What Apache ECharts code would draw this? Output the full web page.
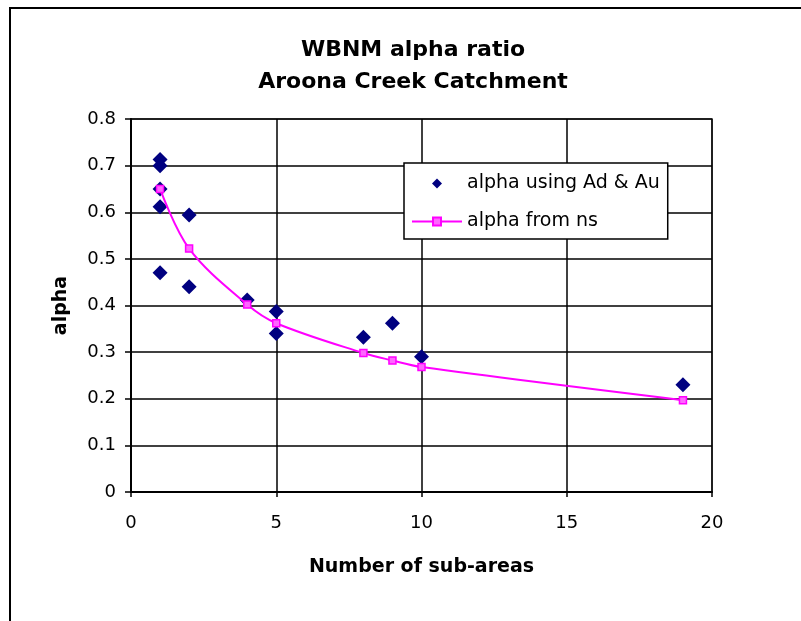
<!DOCTYPE html>
<html>
<head>
<meta charset="utf-8">
<script src="https://cdn.jsdelivr.net/npm/echarts@6/dist/echarts.min.js"></script>
<style>
html,body{margin:0;padding:0;background:#fff;}
#chart{width:801px;height:621px;}
</style>
</head>
<body>
<div id="chart"></div>
<script>
// Data
var scatterX = [1, 1, 1, 1, 1, 2, 2, 4, 5, 5, 8, 9, 10, 19];
var scatterY = [0.713, 0.700, 0.650, 0.612, 0.470, 0.594, 0.440, 0.412, 0.387, 0.340, 0.332, 0.362, 0.290, 0.230];
var nsX = [1, 2, 4, 5, 8, 9, 10, 19];
var nsY = [0.650, 0.522, 0.402, 0.362, 0.298, 0.282, 0.268, 0.197];
var seriesNames = ['alpha using Ad & Au', 'alpha from ns'];
var titleLines = ['WBNM alpha ratio', 'Aroona Creek Catchment'];
var xName = 'Number of sub-areas';
var yName = 'alpha';

var font = '"DejaVu Sans", "Liberation Sans", Arial, sans-serif';
var chart = echarts.init(document.getElementById('chart'), null, {renderer: 'canvas'});

function pairs(xs, ys) { return xs.map(function (x, i) { return [x, ys[i]]; }); }

chart.setOption({
  backgroundColor: '#ffffff',
  animation: false,
  title: {
    text: titleLines.join('\n'),
    left: 408,
    top: 29,
    textAlign: 'center',
    textStyle: {fontFamily: font, fontSize: 22, fontWeight: 'bold', color: '#000', lineHeight: 32}
  },
  graphic: [
    {type: 'line', shape: {x1: 9, y1: 8, x2: 801, y2: 8}, style: {stroke: '#000', lineWidth: 2}},
    {type: 'line', shape: {x1: 10, y1: 8, x2: 10, y2: 621}, style: {stroke: '#000', lineWidth: 2}}
  ],
  legend: {
    left: 404,
    top: 163,
    orient: 'vertical',
    backgroundColor: '#fff',
    borderColor: '#000',
    borderWidth: 1.5,
    borderRadius: 0,
    padding: [11, 8, 8, 7],
    itemGap: 19,
    itemWidth: 50,
    itemHeight: 10,
    symbolKeepAspect: true,
    textStyle: {fontFamily: font, fontSize: 19, color: '#000'},
    data: [
      {name: seriesNames[0], icon: 'path://M5,0L10,5L5,10L0,5Z'},
      {name: seriesNames[1]}
    ]
  },
  grid: {
    left: 131, right: 89, top: 119, bottom: 129,
    show: true, borderColor: '#808080', borderWidth: 2, backgroundColor: 'transparent'
  },
  xAxis: {
    type: 'value', min: 0, max: 20, interval: 5,
    name: xName, nameLocation: 'middle', nameGap: 66,
    nameTextStyle: {fontFamily: font, fontSize: 19, fontWeight: 'bold', color: '#000'},
    axisLine: {show: true, lineStyle: {color: '#000', width: 2}},
    axisTick: {show: true, length: 5, lineStyle: {color: '#000', width: 1.5}},
    axisLabel: {fontFamily: font, fontSize: 18, color: '#000', margin: 22},
    splitLine: {show: true, lineStyle: {color: '#000', width: 1.5}}
  },
  yAxis: {
    type: 'value', min: 0, max: 0.8, interval: 0.1,
    name: yName, nameLocation: 'middle', nameGap: 60, nameRotate: 90,
    nameTextStyle: {fontFamily: font, fontSize: 19, fontWeight: 'bold', color: '#000'},
    axisLine: {show: true, lineStyle: {color: '#000', width: 2}},
    axisTick: {show: true, length: 6, lineStyle: {color: '#000', width: 1.5}},
    axisLabel: {fontFamily: font, fontSize: 18, color: '#000', margin: 15,
      formatter: function (v) { return String(Math.round(v * 10) / 10); }},
    splitLine: {show: true, lineStyle: {color: '#000', width: 1.5}}
  },
  series: [
    {
      name: seriesNames[0],
      type: 'scatter',
      symbol: 'diamond',
      symbolSize: 15,
      itemStyle: {color: '#000080', opacity: 1},
      data: pairs(scatterX, scatterY),
      z: 3
    },
    {
      name: seriesNames[1],
      type: 'line',
      smooth: 0.35,
      symbol: 'rect',
      symbolSize: 7,
      showSymbol: true,
      lineStyle: {color: '#ff00ff', width: 2},
      itemStyle: {color: '#ff66ff', borderColor: '#ff00ff', borderWidth: 1.5},
      data: pairs(nsX, nsY),
      z: 4
    }
  ]
});
</script>
</body>
</html>
